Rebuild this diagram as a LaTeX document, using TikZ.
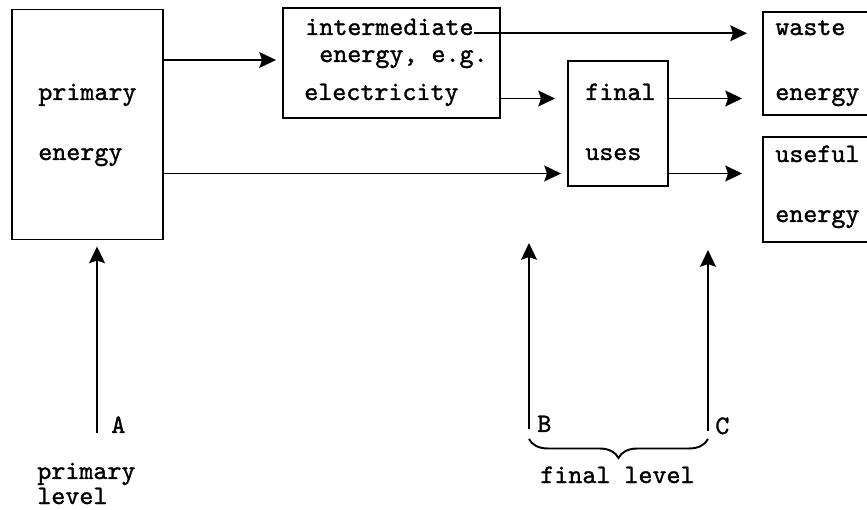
\documentclass[tikz,border=0pt]{standalone}
\usepackage{fontspec}
\newfontfamily\typew{lmmono10-regular.otf}[FakeBold=1.2]
\usetikzlibrary{positioning,arrows.meta,decorations.pathreplacing}

\tikzset{
  box/.style={draw, line width=1.1pt, inner sep=0pt},
  txt/.style={anchor=base west, inner sep=0pt, font=\typew\fontsize{15.2}{18}\selectfont},
  flow/.style={-{Stealth[length=9.5pt, width=9pt, inset=1.5pt]}, line width=1.1pt}
}

\begin{document}
\begin{tikzpicture}[x=0.02cm, y=-0.02cm]
    \useasboundingbox (0,0) rectangle (867,510);
    \clip (0,0) rectangle (867,510);

    % Boxes
    \node[box, minimum width=3.02cm, minimum height=4.6cm] (prim) at (87.5,124.5) {};
    \node[box, minimum width=4.34cm, minimum height=2.2cm] (interm) at (391.5,63) {};
    \node[box, minimum width=2cm, minimum height=2.5cm] (fin) at (618,123.5) {};
    \node[box, minimum width=2.6cm, minimum height=2.06cm] (waste) at (828,63.5) {};
    \node[box, minimum width=2.6cm, minimum height=2.1cm] (useful) at (828,189.5) {};

    % Box texts
    \node[txt] (tprim1) at (38,100) {primary};
    \node[txt] (tprim2) at (38,160) {energy};
    \node[txt] (tint1) at (305,35) {intermediate};
    \node[txt] (tint2) at (319,62) {energy, e.g.};
    \node[txt] (tint3) at (304,100) {electricity};
    \node[txt] (tfin1) at (585,100) {final};
    \node[txt] (tfin2) at (585,160) {uses};
    \node[txt] (twaste1) at (775,35) {waste};
    \node[txt] (twaste2) at (775,100) {energy};
    \node[txt] (tuse1) at (775,162) {useful};
    \node[txt] (tuse2) at (775,222) {energy};

    % Flows
    \coordinate (finin1) at ([yshift=0.5cm]fin.west);
    \coordinate (finin2) at ([yshift=-1cm]fin.west);
    \coordinate (finout1) at ([yshift=0.5cm]fin.east);
    \coordinate (finout2) at ([yshift=-1cm]fin.east);

    \draw[flow, shorten >=0.12cm] ([yshift=0.06cm]prim.east |- interm.west) -- ([yshift=0.06cm]interm.west);
    \draw[flow, shorten >=0.12cm] (prim.east |- finin2) -- (finin2);
    \draw[flow, shorten >=0.24cm] (interm.east |- finin1) -- (finin1);
    \draw[flow, shorten >=0.3cm] ([yshift=1pt]tint1.base east) -- ([yshift=1pt]waste.west |- tint1.base east);
    \draw[flow, shorten >=0.4cm] (finout1) -- (waste.west |- finout1);
    \draw[flow, shorten >=0.4cm] (finout2) -- (useful.west |- finout2);

    % Levels
    \coordinate (a0) at (97,433);
    \coordinate (b0) at (529,429);
    \coordinate (b1) at (529,243);
    \coordinate (c0) at (708,431);
    \coordinate (c1) at (708,250);

    \draw[flow, shorten >=0.12cm] (a0) -- (a0 |- prim.south);
    \draw[flow] (b0) -- (b1);
    \draw[flow] (c0) -- (c1);

    \node[txt] (labA) at (111,433) {A};
    \node[txt] (labB) at (537,432) {B};
    \node[txt] (labC) at (715,434) {C};

    \draw[line width=1.1pt, decorate, decoration={brace, mirror, amplitude=0.38cm}]
        ([yshift=-0.2cm]b0) -- ([yshift=-0.2cm]b0 -| c0);

    \node[txt] (lprim1) at (37,479) {primary};
    \node[txt] (lprim2) at (37,504) {level};
    \node[txt] (lfin) at (540,483) {final level};
\end{tikzpicture}
\end{document}
